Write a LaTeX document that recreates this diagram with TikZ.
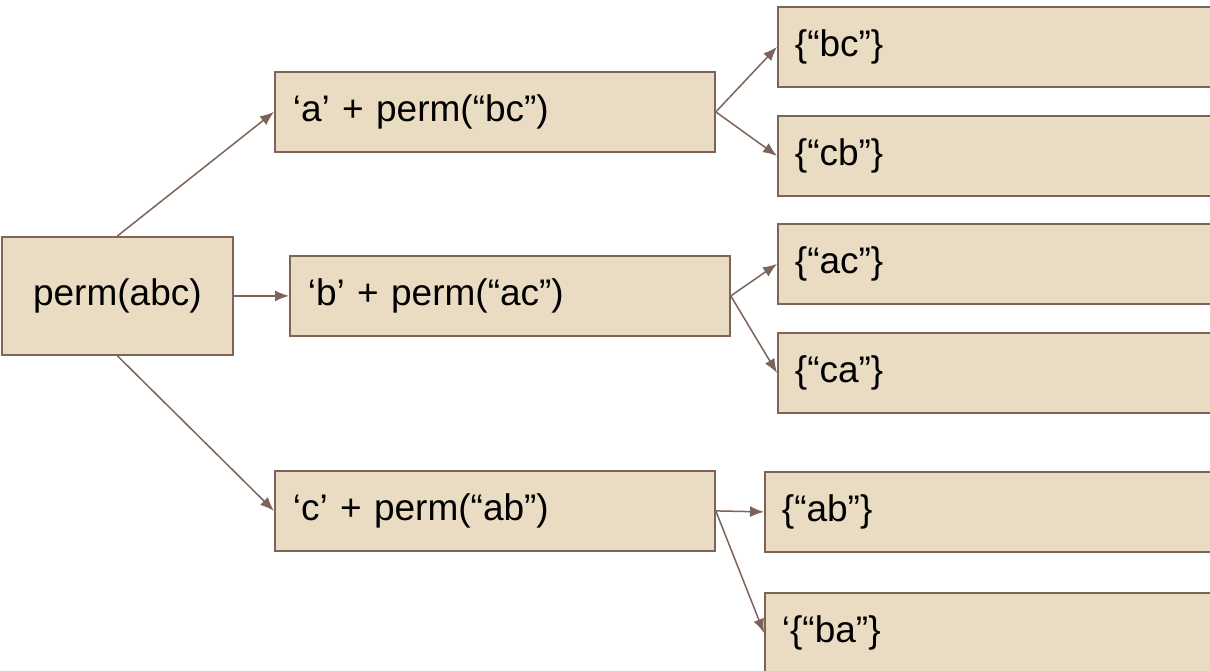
\documentclass[tikz,border=0pt]{standalone}
\usepackage{fontspec}
\setmainfont{Liberation Sans}
\usetikzlibrary{arrows.meta}
\definecolor{boxfill}{HTML}{EADCC3}
\definecolor{boxline}{HTML}{7D6459}
\tikzset{
  box/.style={draw=boxline, fill=boxfill, line width=1.8pt, inner sep=0pt,
    font=\fontsize{37}{42}\selectfont, text=black},
  midbox/.style={box, anchor=north west, minimum width=440pt, minimum height=80pt,
    text width=404pt, align=left, inner xsep=18pt},
  leafbox/.style={box, anchor=north west, minimum width=470pt, minimum height=80pt,
    text width=436pt, align=left, inner xsep=17pt},
  conn/.style={draw=boxline, line width=1.5pt, -{Latex[length=14pt,width=11pt]}}
}
\begin{document}
\begin{tikzpicture}[x=1pt,y=-1pt]
\useasboundingbox (0,0) rectangle (1210,671);
\clip (0,0) rectangle (1210,671);
\fill[white] (0,0) rectangle (1210,671);
\node[box, anchor=north west, minimum width=231pt, minimum height=118pt] (perm) at (1,236) {perm(abc)};
\node[midbox] (a) at (274,71) {‘a’ + perm(“bc”)};
\node[midbox] (b) at (289,255) {‘b’ + perm(“ac”)};
\node[midbox] (c) at (274,470) {‘c’ + perm(“ab”)};
\node[leafbox] (bc) at (777,6) {\{“bc”\}};
\node[leafbox] (cb) at (777,115) {\{“cb”\}};
\node[leafbox] (ac) at (777,223) {\{“ac”\}};
\node[leafbox] (ca) at (777,332) {\{“ca”\}};
\node[leafbox] (ab) at (764,471) {\{“ab”\}};
\node[leafbox] (ba) at (764,592) {‘\{“ba”\}};
\draw[conn] (perm.north) -- (a.west);
\draw[conn] (perm.east) -- (b.west);
\draw[conn] (perm.south) -- (c.west);
\draw[conn] (a.east) -- (bc.west);
\draw[conn] (a.east) -- (cb.west);
\draw[conn] (b.east) -- (ac.west);
\draw[conn] (b.east) -- (ca.west);
\draw[conn] (c.east) -- (ab.west);
\draw[conn] (c.east) -- (ba.west);
\end{tikzpicture}
\end{document}
